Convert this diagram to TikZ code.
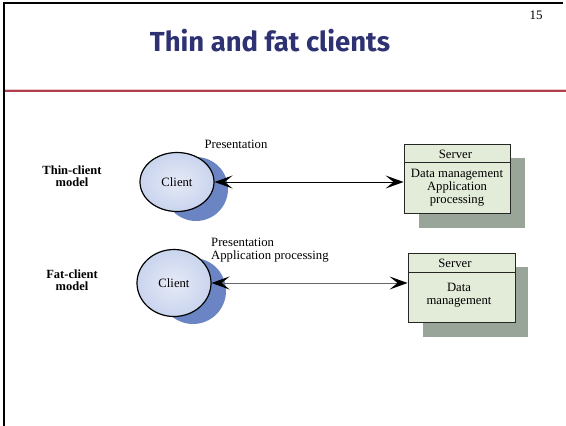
\documentclass[tikz,border=0pt]{standalone}
\usepackage{fontspec}
\setmainfont{Liberation Serif}
\newfontfamily\titlefont{Fira Sans}
\usetikzlibrary{shapes.geometric,arrows.meta}
\definecolor{titleblue}{HTML}{2E3272}
\definecolor{redline}{HTML}{B0404E}
\definecolor{clientin}{HTML}{E6EAF6}
\definecolor{clientout}{HTML}{C9D4EE}
\definecolor{clientshadow}{HTML}{6A84C4}
\definecolor{serverfill}{HTML}{E3EBD9}
\definecolor{servershadow}{HTML}{9AA59A}
\tikzset{
  txt/.style={font=\fontsize{12.7}{12.8}\selectfont, inner sep=0pt, align=center},
  modellabel/.style={txt, font=\fontsize{12.5}{12.3}\selectfont\bfseries},
  clientnode/.style={ellipse, draw=black, line width=1.2pt, inner color=clientin, outer color=clientout, minimum width=74pt, inner sep=0pt, font=\fontsize{12.7}{13}\selectfont},
  cshadow/.style={circle, fill=clientshadow, draw=none, inner sep=0pt},
  serverbox/.style={rectangle, draw=black!85, line width=0.9pt, fill=serverfill, inner sep=0pt},
  sshadow/.style={rectangle, fill=servershadow, draw=none, inner sep=0pt},
  link/.style={line width=0.9pt, {Stealth[length=18pt,width=13pt,inset=8pt,color=black]}-{Stealth[length=18pt,width=13pt,inset=8pt,color=black]}},
}
\begin{document}
\begin{tikzpicture}[x=1pt,y=-1pt]
\useasboundingbox (0,0) rectangle (566,426);
\fill[white] (0,0) rectangle (566,426);
% frame
\draw[line width=2pt] (4,426) -- (4,3) -- (563,3);
\draw[redline, line width=3pt] (5,90) -- (566,90);
\draw[white!70!redline, line width=0.8pt] (5,89.6) -- (566,89.6);
% title
\node[inner sep=0pt, text=titleblue, font=\titlefont\fontsize{27.5}{30}\selectfont\bfseries] (title) at (270,41) {Thin and fat clients};
\node[inner sep=0pt, font=\fontsize{13}{13}\selectfont] (pageno) at (536,15) {15};

% thin-client model
\node[modellabel] (thinlabel) at (72,176) {Thin-client\\model};
\node[cshadow, minimum size=64pt] (cs1) at (196,189) {};
\node[clientnode, minimum height=59pt] (c1) at (177,182) {Client};
\node[txt] (pres1) at (236,144) {Presentation};
\node[sshadow, minimum width=106pt, minimum height=70pt] (ss1) at (472,193) {};
\node[serverbox, minimum width=106pt, minimum height=69pt] (s1) at (457,178.5) {};
\draw[black!85, line width=0.9pt] ([yshift=-19pt]s1.north west) coordinate (h1a) -- (h1a -| s1.east);
\node[txt] (s1title) at (455.5,154) {Server};
\node[txt] (s1body) at (457,187.5) {Data management\\Application\\processing};
\draw[link] (c1.east) -- (c1.east -| s1.west);

% fat-client model
\node[modellabel] (fatlabel) at (72,280.5) {Fat-client\\model};
\node[cshadow, minimum size=66pt] (cs2) at (193,291) {};
\node[clientnode, minimum height=67pt] (c2) at (174,283) {Client};
\node[txt, align=left, anchor=west] (pres2) at (211,250.5) {Presentation\\Application processing};
\node[sshadow, minimum width=105pt, minimum height=70pt] (ss2) at (475.5,302) {};
\node[serverbox, minimum width=107pt, minimum height=69pt] (s2) at (461.5,287.5) {};
\draw[black!85, line width=0.9pt] ([yshift=-20pt]s2.north west) coordinate (h2a) -- (h2a -| s2.east);
\node[txt] (s2title) at (455,263) {Server};
\node[txt] (s2body) at (459,295) {Data\\management};
\draw[link, draw=black!60] (c2.east) -- (c2.east -| s2.west);
\end{tikzpicture}
\end{document}
